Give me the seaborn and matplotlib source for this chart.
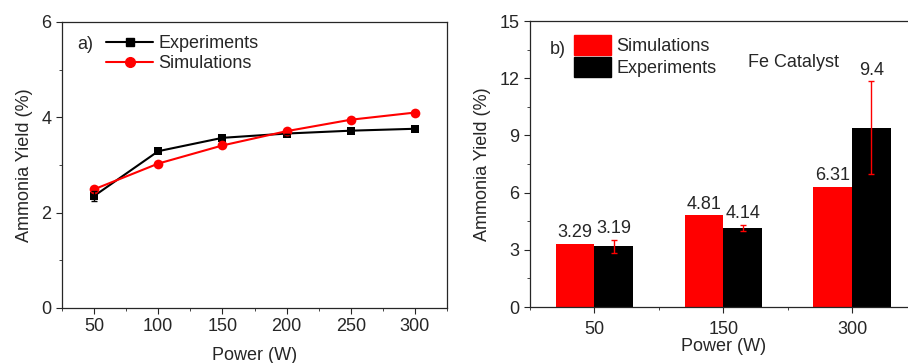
import numpy as np
import pandas as pd
import matplotlib
matplotlib.use("Agg")
import matplotlib.pyplot as plt
import seaborn as sns
from matplotlib.ticker import MultipleLocator
from matplotlib.lines import Line2D
from matplotlib.patches import Patch

# ---- data: panel a ----
power_a = [50, 100, 150, 200, 250, 300]
exp_a = [2.35, 3.29, 3.57, 3.66, 3.72, 3.76]
exp_a_err = [0.1, 0, 0, 0, 0, 0]
sim_a = [2.49, 3.03, 3.41, 3.71, 3.95, 4.10]

# ---- data: panel b ----
power_b = ["50", "150", "300"]
sim_b = [3.29, 4.81, 6.31]
exp_b = [3.19, 4.14, 9.4]
exp_b_err = [0.35, 0.15, 2.43]
series_names = ["Simulations", "Experiments"]

FS = 13
sns.set_style("ticks")
plt.rcParams["font.family"] = ["Liberation Sans", "DejaVu Sans"]
plt.rcParams["font.size"] = FS
plt.rcParams["axes.linewidth"] = 0.9
plt.rcParams["xtick.major.size"] = 4
plt.rcParams["ytick.major.size"] = 4
plt.rcParams["xtick.minor.size"] = 2
plt.rcParams["ytick.minor.size"] = 2
plt.rcParams["xtick.direction"] = "out"
plt.rcParams["ytick.direction"] = "out"

fig = plt.figure(figsize=(9.08, 3.63), dpi=100)

# ---------------- panel a ----------------
ax1 = fig.add_axes([62/908, 55/363, 385/908, 286/363])
df_a = pd.DataFrame({"power": power_a * 2,
                     "yield": exp_a + sim_a,
                     "series": ["Experiments"] * 6 + ["Simulations"] * 6})
sns.lineplot(data=df_a[df_a.series == "Experiments"], x="power", y="yield",
             color="black", marker="s", markersize=6, markeredgewidth=0,
             linewidth=1.5, ax=ax1, legend=False)
sns.lineplot(data=df_a[df_a.series == "Simulations"], x="power", y="yield",
             color="red", marker="o", markersize=7, markeredgewidth=0,
             linewidth=1.5, ax=ax1, legend=False)
ax1.errorbar(power_a, exp_a, yerr=exp_a_err, fmt="none", ecolor="black",
             elinewidth=1, capsize=2)
ax1.set_xlim(25, 325)
ax1.set_ylim(0, 6)
ax1.xaxis.set_major_locator(MultipleLocator(50))
ax1.xaxis.set_minor_locator(MultipleLocator(25))
ax1.yaxis.set_major_locator(MultipleLocator(2))
ax1.yaxis.set_minor_locator(MultipleLocator(1))
ax1.set_xlabel("Power (W)", fontsize=FS, labelpad=8)
ax1.set_ylabel("Ammonia Yield (%)", fontsize=FS, labelpad=6)
ax1.tick_params(labelsize=FS)
for s in ax1.spines.values():
    s.set_visible(True)
ax1.text(0.04, 0.92, "a)", transform=ax1.transAxes, fontsize=FS, va="center")
h1 = [Line2D([], [], color="black", marker="s", markersize=6, lw=1.5),
      Line2D([], [], color="red", marker="o", markersize=7, lw=1.5)]
ax1.legend(h1, ["Experiments", "Simulations"], loc="upper left",
           bbox_to_anchor=(0.115, 0.955), frameon=False, fontsize=FS,
           handlelength=2.6, handletextpad=0.3, labelspacing=0.2,
           borderaxespad=0, borderpad=0)

# ---------------- panel b ----------------
ax2 = fig.add_axes([530/908, 56/363, 386.5/908, 286/363])
df_b = pd.DataFrame({"power": power_b * 2,
                     "yield": sim_b + exp_b,
                     "series": [series_names[0]] * 3 + [series_names[1]] * 3})
sns.barplot(data=df_b, x="power", y="yield", hue="series",
            hue_order=series_names, order=power_b,
            palette={"Simulations": "#ff0000", "Experiments": "#000000"},
            width=0.6, gap=0, saturation=1, errorbar=None, ax=ax2,
            legend=False, edgecolor="none")
bars = [p for p in ax2.patches]
sim_bars = bars[:3]
exp_bars = bars[3:6]
for b, v in zip(sim_bars, sim_b):
    cx = b.get_x() + b.get_width() / 2
    ax2.annotate(f"{v:g}", (cx, v), xytext=(0, 2), textcoords="offset points",
                 ha="center", va="bottom", fontsize=FS)
for b, v, e in zip(exp_bars, exp_b, exp_b_err):
    cx = b.get_x() + b.get_width() / 2
    ax2.errorbar([cx], [v], yerr=[e], fmt="none", ecolor="red",
                 elinewidth=1, capsize=2.5)
    ax2.annotate(f"{v:g}", (cx, v + e), xytext=(0, 2), textcoords="offset points",
                 ha="center", va="bottom", fontsize=FS)
ax2.set_xlim(-0.5, 2.5)
ax2.set_ylim(0, 15)
ax2.yaxis.set_major_locator(MultipleLocator(3))
ax2.yaxis.set_minor_locator(MultipleLocator(1.5))
ax2.xaxis.set_minor_locator(MultipleLocator(0.5))
ax2.set_xlabel("Power (W)", fontsize=FS, labelpad=0)
ax2.set_ylabel("Ammonia Yield (%)", fontsize=FS, labelpad=6)
ax2.tick_params(labelsize=FS)
ax2.tick_params(axis="x", which="major", pad=6)
for s in ax2.spines.values():
    s.set_visible(True)
ax2.text(0.05, 0.9, "b)", transform=ax2.transAxes, fontsize=FS, va="center")
ax2.text(0.565, 0.855, "Fe Catalyst", transform=ax2.transAxes, fontsize=FS, va="center")
h2 = [Patch(color="#ff0000"), Patch(color="#000000")]
ax2.legend(h2, series_names, loc="upper left", bbox_to_anchor=(0.113, 0.95),
           frameon=False, fontsize=FS, handlelength=2.05, handleheight=1.3,
           handletextpad=0.3, labelspacing=0.1, borderaxespad=0, borderpad=0)

fig.savefig("out.png", dpi=100)
